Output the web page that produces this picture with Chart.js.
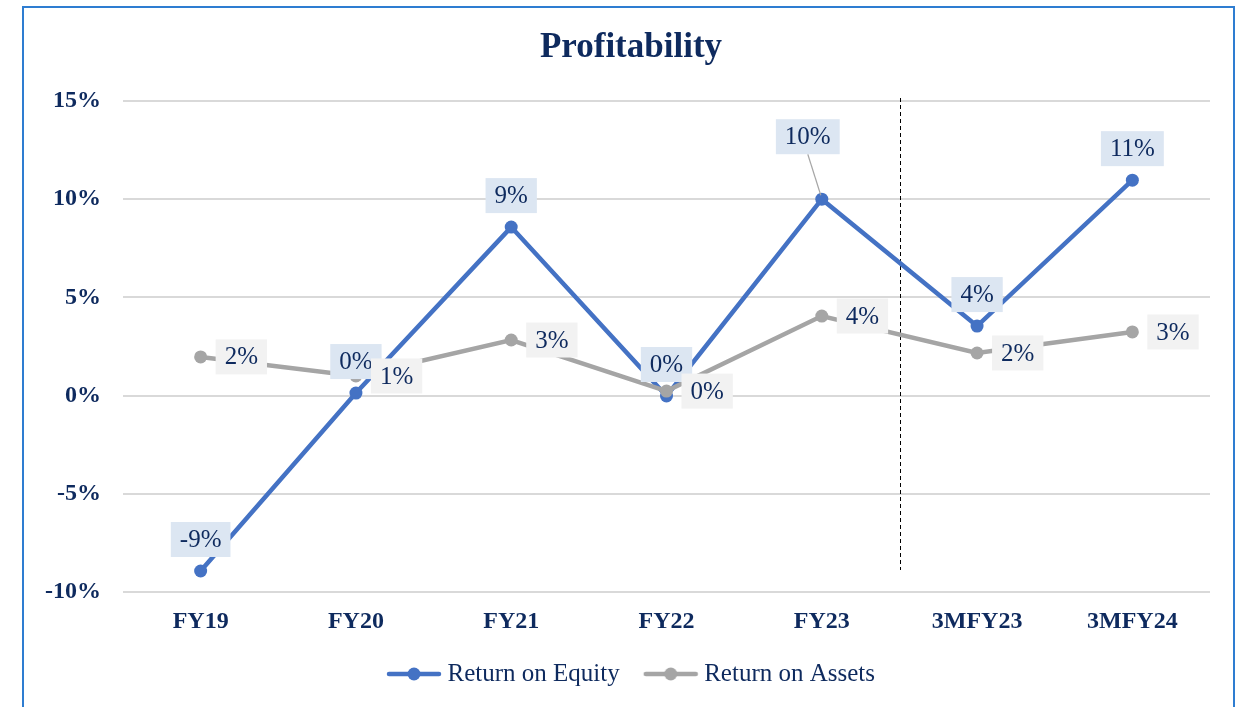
<!DOCTYPE html>
<html>
<head>
<meta charset="utf-8">
<script src="https://cdn.jsdelivr.net/npm/chart.js@4/dist/chart.umd.min.js"></script>
<style>
  html,body{margin:0;padding:0;background:#fff;}
  #wrap{position:relative;width:1245px;height:707px;}
</style>
</head>
<body>
<div id="wrap"><canvas id="c" width="1245" height="707"></canvas></div>
<script>
const categories = ['FY19', 'FY20', 'FY21', 'FY22', 'FY23', '3MFY23', '3MFY24'];
const returnOnEquity = [-8.93, 0.13, 8.58, -0.02, 10.0, 3.54, 10.97];
const returnOnAssets = [1.97, 1.0, 2.83, 0.23, 4.05, 2.17, 3.24];
const yTickValues = [-10, -5, 0, 5, 10, 15];

const NAVY = '#0E2A5E';
const SERIF = '"Liberation Serif", "Times New Roman", serif';
const BLUE = '#4472C4';
const GRAY = '#A5A5A5';

function legendIcon(color) {
  const c = document.createElement('canvas');
  c.width = 62; c.height = 14;
  const g = c.getContext('2d');
  g.strokeStyle = color; g.lineWidth = 4.5; g.lineCap = 'round';
  g.beginPath(); g.moveTo(9, 7); g.lineTo(59, 7); g.stroke();
  g.fillStyle = color;
  g.beginPath(); g.arc(34, 7, 6.5, 0, Math.PI * 2); g.fill();
  return c;
}

const frame = {
  id: 'frame',
  beforeDraw(chart) {
    const ctx = chart.ctx;
    ctx.save();
    ctx.fillStyle = '#ffffff';
    ctx.fillRect(0, 0, chart.width, chart.height);
    ctx.strokeStyle = '#2E7DD1';
    ctx.lineWidth = 2;
    ctx.strokeRect(23, 7, 1211, 760);
    ctx.restore();
  }
};

const divider = {
  id: 'divider',
  beforeDatasetsDraw(chart) {
    const xs = chart.scales.x, area = chart.chartArea, ctx = chart.ctx;
    const x = Math.round((xs.getPixelForValue(4) + xs.getPixelForValue(5)) / 2) + 1.5;
    ctx.save();
    ctx.strokeStyle = '#000000';
    ctx.lineWidth = 1;
    ctx.setLineDash([4, 3]);
    ctx.beginPath();
    ctx.moveTo(x, area.top - 3);
    ctx.lineTo(x, area.bottom - 22);
    ctx.stroke();
    ctx.restore();
  }
};

const valueLabels = {
  id: 'valueLabels',
  afterDatasetsDraw(chart) {
    const ctx = chart.ctx;
    ctx.save();
    ctx.font = '25px ' + SERIF;
    ctx.textAlign = 'center';
    ctx.textBaseline = 'middle';
    chart.data.datasets.forEach((ds, di) => {
      const meta = chart.getDatasetMeta(di);
      const st = ds.labelStyle;
      meta.data.forEach((pt, i) => {
        const v = Math.round(ds.data[i]);
        const txt = (v === 0 ? 0 : v) + '%';
        const w = ctx.measureText(txt).width + 2 * st.padX;
        const h = st.h;
        let cx, cy;
        if (st.pos === 'above') { cx = pt.x; cy = pt.y - st.gap - h / 2; }
        else { cx = pt.x + st.gap + w / 2; cy = pt.y; }
        const n = st.nudge && st.nudge[i];
        if (n) {
          cx += n.dx; cy += n.dy;
          ctx.strokeStyle = '#A6A6A6';
          ctx.lineWidth = 1.2;
          ctx.beginPath();
          ctx.moveTo(cx, cy + h / 2);
          ctx.lineTo(pt.x - 1, pt.y - 4);
          ctx.stroke();
        }
        ctx.fillStyle = st.bg;
        ctx.fillRect(cx - w / 2, cy - h / 2, w, h);
        ctx.fillStyle = NAVY;
        ctx.fillText(txt, cx, cy + 1);
      });
    });
    ctx.restore();
  }
};

new Chart(document.getElementById('c'), {
  type: 'line',
  data: {
    labels: categories,
    datasets: [
      {
        label: 'Return on Equity',
        data: returnOnEquity,
        borderColor: BLUE,
        backgroundColor: BLUE,
        borderWidth: 4.5,
        pointRadius: 6.5,
        pointHoverRadius: 6.5,
        pointBorderWidth: 0,
        tension: 0,
        order: 1,
        labelStyle: { pos: 'above', gap: 14, h: 35, padX: 9, bg: '#DCE6F2', nudge: { 4: { dx: -14, dy: -31 } } }
      },
      {
        label: 'Return on Assets',
        data: returnOnAssets,
        borderColor: GRAY,
        backgroundColor: GRAY,
        borderWidth: 4.5,
        pointRadius: 6.5,
        pointHoverRadius: 6.5,
        pointBorderWidth: 0,
        tension: 0,
        order: 0,
        labelStyle: { pos: 'right', gap: 15, h: 35, padX: 9, bg: '#F2F2F2' }
      }
    ]
  },
  options: {
    responsive: false,
    animation: false,
    layout: { padding: { left: 17, right: 0, top: 0, bottom: 10.5 } },
    plugins: {
      tooltip: { enabled: false },
      title: {
        display: true,
        text: 'Profitability',
        color: NAVY,
        font: { family: SERIF, size: 35, weight: 'bold', lineHeight: 1.2 },
        padding: { top: 27, bottom: 32 }
      },
      legend: {
        position: 'bottom',
        labels: {
          color: NAVY,
          font: { family: SERIF, size: 25 },
          usePointStyle: true,
          pointStyleWidth: 48,
          padding: 24,
          generateLabels(chart) {
            return chart.data.datasets.map((ds, i) => ({
              text: ds.label,
              pointStyle: legendIcon(ds.borderColor),
              fillStyle: ds.borderColor,
              strokeStyle: ds.borderColor,
              lineWidth: 0,
              fontColor: NAVY,
              hidden: false,
              datasetIndex: i
            }));
          }
        }
      }
    },
    scales: {
      x: {
        offset: true,
        grid: { display: false, drawTicks: false },
        border: { display: false },
        ticks: { color: NAVY, font: { family: SERIF, size: 24, weight: 'bold' }, padding: 15 },
        afterFit(scale) { scale.height = 45.5; }
      },
      y: {
        min: -10,
        max: 15,
        afterBuildTicks(scale) { scale.ticks = yTickValues.map(v => ({ value: v })); },
        grid: { color: '#D9D9D9', lineWidth: 2, drawTicks: false },
        border: { display: false },
        ticks: {
          color: NAVY,
          font: { family: SERIF, size: 24, weight: 'bold' },
          padding: 22,
          callback: v => v + '%'
        },
        afterFit(scale) { scale.width = 106; }
      },
      y2: {
        axis: 'y',
        type: 'linear',
        position: 'right',
        min: 0,
        max: 1,
        grid: { display: false, drawTicks: false },
        border: { display: false },
        ticks: { display: false },
        afterFit(scale) { scale.width = 35; }
      }
    }
  },
  plugins: [frame, divider, valueLabels]
});
</script>
</body>
</html>
